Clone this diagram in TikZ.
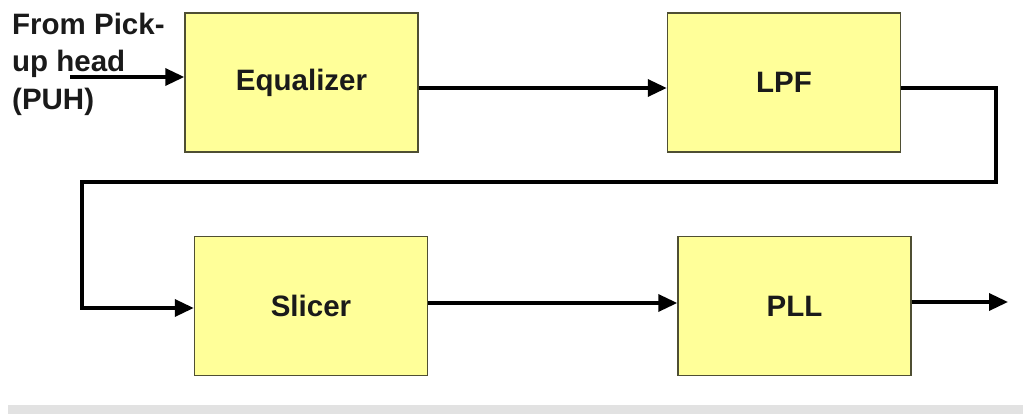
\documentclass[tikz,border=0pt]{standalone}
\usepackage{fontspec}
\setmainfont{Liberation Sans}
\usetikzlibrary{arrows.meta}
\definecolor{boxfill}{HTML}{FFFF99}
\definecolor{boxline}{HTML}{4F4F33}
\definecolor{strip}{HTML}{E2E2E2}
\definecolor{ink}{HTML}{1A1A1A}
\tikzset{
  block/.style={draw=boxline, line width=1.5pt, fill=boxfill,
    minimum width=233pt, minimum height=139pt, inner sep=0pt,
    font=\fontsize{29.5}{32}\selectfont\bfseries, text=ink},
  wire/.style={line width=3.5pt, line join=miter, draw=black},
  flow/.style={wire, -{Triangle[length=19pt,width=17pt]}}
}
\begin{document}
\begin{tikzpicture}[x=1pt, y=-1pt]
  \useasboundingbox (0,0) rectangle (1023,414);
  % grey strip along the bottom edge
  \fill[strip] (8,405) rectangle (1023,414);

  % processing blocks
  \node[block] (eq)  at (301.5,82.5) {Equalizer};
  \node[block] (lpf) at (784,82.5)   {LPF};
  \node[block] (sl)  at (311,306)    {Slicer};
  \node[block] (pll) at (794.5,306)  {PLL};

  % input label
  \node[anchor=north west, inner sep=0pt, align=left, text=ink,
        font=\fontsize{29.5}{37.5}\selectfont\bfseries] (src) at (12,12.5)
        {From Pick-\\up head\\(PUH)};

  % signal path coordinates
  \coordinate (in)  at (70,77);
  \coordinate (r1)  at (0,88);
  \coordinate (c1)  at (996,88);
  \coordinate (c2)  at (996,182);
  \coordinate (c3)  at (82,182);
  \coordinate (c4)  at (82,308);
  \coordinate (r2)  at (0,303);
  \coordinate (out) at (1008,302);

  \draw[flow] (in) -- (in -| eq.west);
  \draw[flow] (eq.east |- r1) -- (lpf.west |- r1);
  \draw[flow] (lpf.east |- r1) -- (c1) -- (c2) -- (c3) -- (c4) -- (sl.west |- c4);
  \draw[flow] (sl.east |- r2) -- (pll.west |- r2);
  \draw[flow] (pll.east |- out) -- (out);
\end{tikzpicture}
\end{document}
